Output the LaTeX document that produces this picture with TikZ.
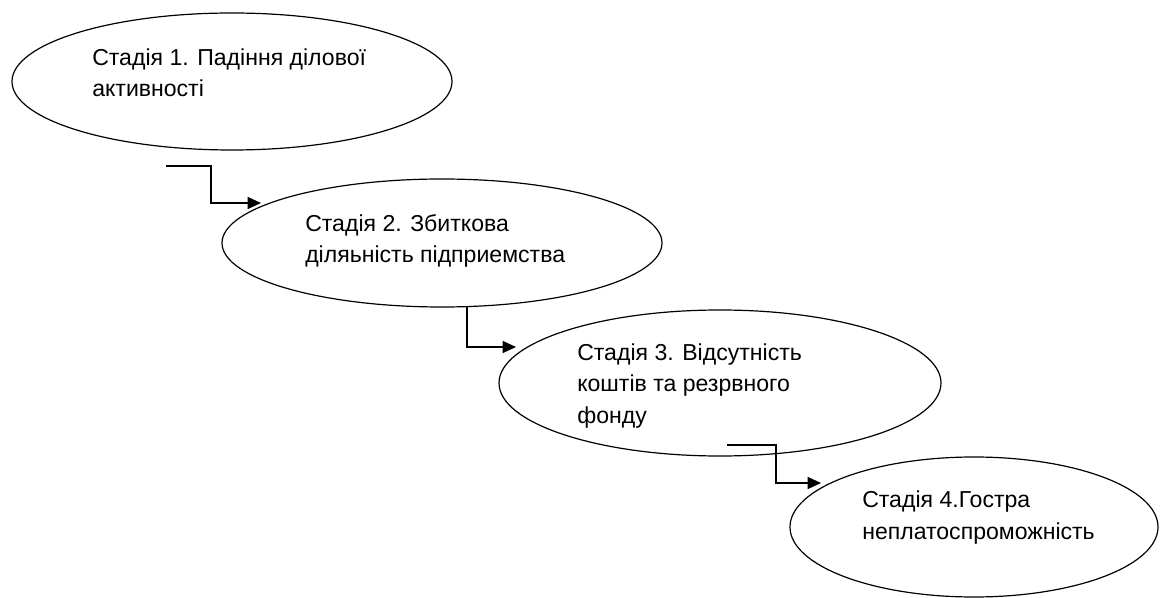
\documentclass[tikz,border=0pt]{standalone}
\usepackage{fontspec}
\setmainfont{Liberation Sans}
\usetikzlibrary{shapes.geometric,arrows.meta}
\begin{document}
\begin{tikzpicture}[x=0.75pt,y=-0.75pt,
  stage/.style={draw=black, line width=0.9pt, ellipse, inner sep=0pt, outer sep=0pt},
  stagetext/.style={anchor=base west, align=left, inner sep=0pt, font=\fontsize{17.3}{23.5}\selectfont},
  link/.style={draw=black, line width=0.9pt, -{Triangle[length=10pt,width=9pt]}}]
\useasboundingbox (0,0) rectangle (1160,598);
\fill[white] (0,0) rectangle (1160,598);
% ellipses
\node[stage, minimum width=330pt, minimum height=102.75pt] (e1) at (232,81.5) {};
\node[stage, minimum width=330pt, minimum height=96pt] (e2) at (442,243) {};
\node[stage, minimum width=331.5pt, minimum height=109.5pt] (e3) at (720,383) {};
\node[stage, minimum width=276pt, minimum height=105pt] (e4) at (974,527) {};
% texts (anchored at the baseline of their last line)
\node[stagetext] (t1) at (92,97) {Стадія 1. Падіння ділової\\активності};
\node[stagetext] (t2) at (305,263) {Стадія 2. Збиткова\\діляьність підприемства};
\node[stagetext] (t3) at (577,423) {Стадія 3. Відсутність\\коштів та резрвного\\фонду};
\node[stagetext] (t4) at (862,539) {Стадія 4.Гостра\\неплатоспроможність};
% connector points
\coordinate (c1s) at (166,166);
\coordinate (c1e) at (261,203);
\coordinate (c2s) at (467,307);
\coordinate (c2e) at (516,347);
\coordinate (c3s) at (727,445);
\coordinate (c3e) at (821,483);
\draw[link] (c1s) -- (211,166) -- (211,203) -- (c1e);
\draw[link] (c2s) -- (c2s |- c2e) -- (c2e);
\draw[link] (c3s) -- (776,445) -- (776,483) -- (c3e);
\end{tikzpicture}
\end{document}
